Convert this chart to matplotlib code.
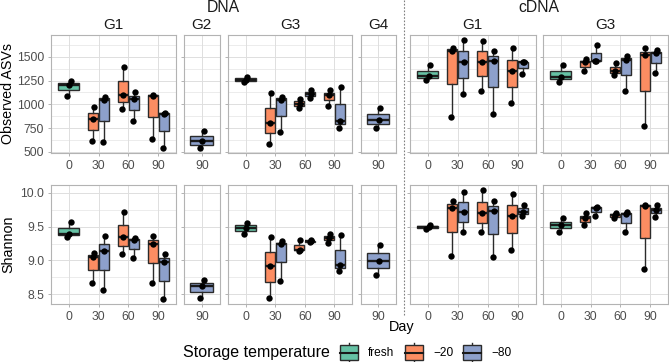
import matplotlib
matplotlib.use('Agg')
import matplotlib.pyplot as plt
from matplotlib.patches import Rectangle
import numpy as np

plt.rcParams['font.family'] = ['Liberation Sans', 'DejaVu Sans']

# ---------------- data ----------------
temps = ['fresh', '-20', '-80']
temp_labels = ['fresh', '\u221220', '\u221280']
temp_colors = ['#66C2A5', '#FC8D62', '#8DA0CB']

days_full = [0, 30, 60, 90]
days_late = [90]

# Observed ASVs
dna_g1_asv = {
    (0, 'fresh'): [1090, 1200, 1250],
    (30, '-20'): [615, 845, 970],
    (30, '-80'): [600, 1045, 1080],
    (60, '-20'): [950, 1100, 1395],
    (60, '-80'): [825, 1055, 1125],
    (90, '-20'): [635, 1090, 1100],
    (90, '-80'): [535, 900, 910],
}
dna_g2_asv = {(90, '-80'): [535, 610, 715]}
dna_g3_asv = {
    (0, 'fresh'): [1238, 1258, 1290],
    (30, '-20'): [580, 805, 1120],
    (30, '-80'): [705, 1045, 1080],
    (60, '-20'): [960, 1000, 1060],
    (60, '-80'): [1065, 1105, 1145],
    (90, '-20'): [985, 1095, 1150],
    (90, '-80'): [755, 820, 1185],
}
dna_g4_asv = {(90, '-80'): [750, 830, 960]}
cdna_g1_asv = {
    (0, 'fresh'): [1260, 1295, 1410],
    (30, '-20'): [863, 1559, 1595],
    (30, '-80'): [1106, 1444, 1674],
    (60, '-20'): [1144, 1448, 1664],
    (60, '-80'): [900, 1455, 1559],
    (90, '-20'): [1009, 1347, 1594],
    (90, '-80'): [1322, 1441, 1448],
}
cdna_g3_asv = {
    (0, 'fresh'): [1232, 1291, 1409],
    (30, '-20'): [1350, 1440, 1480],
    (30, '-80'): [1455, 1460, 1622],
    (60, '-20'): [1308, 1354, 1430],
    (60, '-80'): [1141, 1469, 1507],
    (90, '-20'): [768, 1517, 1587],
    (90, '-80'): [1326, 1535, 1570],
}

# Shannon
dna_g1_sh = {
    (0, 'fresh'): [9.35, 9.39, 9.57],
    (30, '-20'): [8.67, 9.05, 9.11],
    (30, '-80'): [8.57, 9.14, 9.36],
    (60, '-20'): [9.09, 9.35, 9.71],
    (60, '-80'): [9.03, 9.30, 9.33],
    (90, '-20'): [8.67, 9.24, 9.36],
    (90, '-80'): [8.43, 8.97, 9.095],
}
dna_g2_sh = {(90, '-80'): [8.44, 8.62, 8.71]}
dna_g3_sh = {
    (0, 'fresh'): [9.39, 9.48, 9.56],
    (30, '-20'): [8.45, 8.92, 9.34],
    (30, '-80'): [8.70, 9.24, 9.29],
    (60, '-20'): [9.14, 9.155, 9.30],
    (60, '-80'): [9.27, 9.285, 9.30],
    (90, '-20'): [9.26, 9.33, 9.39],
    (90, '-80'): [8.84, 8.94, 9.37],
}
dna_g4_sh = {(90, '-80'): [8.78, 8.99, 9.23]}
cdna_g1_sh = {
    (0, 'fresh'): [9.46, 9.49, 9.53],
    (30, '-20'): [9.06, 9.78, 9.88],
    (30, '-80'): [9.42, 9.72, 10.015],
    (60, '-20'): [9.415, 9.695, 10.04],
    (60, '-80'): [9.046, 9.725, 9.877],
    (90, '-20'): [9.154, 9.656, 9.98],
    (90, '-80'): [9.656, 9.72, 9.818],
}
cdna_g3_sh = {
    (0, 'fresh'): [9.425, 9.523, 9.62],
    (30, '-20'): [9.523, 9.62, 9.695],
    (30, '-80'): [9.656, 9.779, 9.793],
    (60, '-20'): [9.62, 9.67, 9.705],
    (60, '-80'): [9.425, 9.68, 9.71],
    (90, '-20'): [8.869, 9.808, 9.823],
    (90, '-80'): [9.646, 9.744, 9.818],
}

asv_ticks = [500, 750, 1000, 1250, 1500]
sh_ticks = [8.5, 9.0, 9.5, 10.0]
sh_tick_labels = ['8.5', '9.0', '9.5', '10.0']

panels = [
    ('DNA', 'G1', days_full, dna_g1_asv, dna_g1_sh),
    ('DNA', 'G2', days_late, dna_g2_asv, dna_g2_sh),
    ('DNA', 'G3', days_full, dna_g3_asv, dna_g3_sh),
    ('DNA', 'G4', days_late, dna_g4_asv, dna_g4_sh),
    ('cDNA', 'G1', days_full, cdna_g1_asv, cdna_g1_sh),
    ('cDNA', 'G3', days_full, cdna_g3_asv, cdna_g3_sh),
]

# ---------------- layout ----------------
W, H = 669, 362
fig = plt.figure(figsize=(W / 100, H / 100), dpi=100)


def rect(x0, y0, x1, y1):
    return [x0 / W, 1 - y1 / H, (x1 - x0) / W, (y1 - y0) / H]


cols = [(51, 176), (184, 219.5), (228, 352), (360.5, 395.5), (410, 535.5), (543, 668)]
rows = [(35, 153), (185, 304)]
ylims = [(487, 1729), (8.357, 10.114)]

BORDER = '#B3B3B3'
GRID = '#DEDEDE'
EDGE = '#2B2B2B'
offsets = np.array([-0.05, 0.02, 0.06])


def draw_panel(ax, days, data):
    for (day, temp), vals in data.items():
        i = days.index(day) + 1
        same = [t for (d, t) in data if d == day]
        if len(same) == 1:
            pos = i
            w = 0.70 if len(days) > 1 else 0.78
        else:
            k = same.index(temp)
            pos = i + (k - (len(same) - 1) / 2) * 0.375
            w = 0.3375
        c = temp_colors[temps.index(temp)]
        ax.boxplot([vals], positions=[pos], widths=[w], whis=(0, 100),
                   patch_artist=True, showfliers=False, manage_ticks=False,
                   boxprops=dict(facecolor=c, edgecolor=EDGE, linewidth=1.0),
                   medianprops=dict(color='#1A1A1A', linewidth=1.7),
                   whiskerprops=dict(color=EDGE, linewidth=1.0),
                   capprops=dict(linewidth=0), zorder=3)
        ax.scatter(pos + offsets[:len(vals)] * (w / 0.7), vals, s=21,
                   color='black', zorder=5, linewidths=0)


for ci, (nuc, grp, days, asv, sh) in enumerate(panels):
    for ri in range(2):
        x0, x1 = cols[ci]
        y0, y1 = rows[ri]
        ax = fig.add_axes(rect(x0, y0, x1, y1))
        data = asv if ri == 0 else sh
        draw_panel(ax, days, data)
        n = len(days)
        ax.set_xlim(0.4, n + 0.6)
        ax.set_ylim(*ylims[ri])
        ax.set_xticks(range(1, n + 1))
        ax.set_xticklabels([str(d) for d in days])
        if ri == 0:
            ax.set_yticks(asv_ticks)
            ax.set_yticks([a + 125 for a in asv_ticks], minor=True)
            ylab = [str(t) for t in asv_ticks]
        else:
            ax.set_yticks(sh_ticks)
            ax.set_yticks([8.75, 9.25, 9.75], minor=True)
            ylab = sh_tick_labels
        if ci == 0:
            ax.set_yticklabels(ylab)
        else:
            ax.set_yticklabels([])
            ax.tick_params(axis='y', which='major', length=0)
        ax.grid(True, which='major', color=GRID, linewidth=0.7, zorder=0)
        ax.grid(True, which='minor', axis='y', color=GRID, linewidth=0.4, zorder=0)
        ax.set_axisbelow(True)
        ax.tick_params(axis='both', which='major', length=2.5, width=0.7,
                       color=BORDER, labelsize=8.7, labelcolor='#4D4D4D', pad=2.5)
        ax.tick_params(axis='y', which='minor', length=0)
        for s in ax.spines.values():
            s.set_color(BORDER)
            s.set_linewidth(0.8)
        if ri == 0:
            fig.text((x0 + x1) / 2 / W, 1 - 25 / H, grp, ha='center', va='center',
                     fontsize=11, color='#1A1A1A')

# top-level strips
fig.text((cols[0][0] + cols[3][1]) / 2 / W, 1 - 7.5 / H, 'DNA', ha='center',
         va='center', fontsize=11.3, color='#1A1A1A')
fig.text((cols[4][0] + cols[5][1]) / 2 / W, 1 - 7.5 / H, 'cDNA', ha='center',
         va='center', fontsize=11.3, color='#1A1A1A')

# y labels
fig.text(8 / W, 1 - 94 / H, 'Observed ASVs', rotation=90, ha='center', va='center',
         fontsize=10.3)
fig.text(8 / W, 1 - 244 / H, 'Shannon', rotation=90, ha='center', va='center',
         fontsize=10.3)

# overlay for separator, x label, legend
ov = fig.add_axes([0, 0, 1, 1])
ov.set_xlim(0, W)
ov.set_ylim(H, 0)
ov.axis('off')
ov.plot([404, 404], [0, 316], color='#7F7F7F', linewidth=0.8, dashes=(1.5, 1.5))
ov.text(402, 327, 'Day', ha='center', va='center', fontsize=10.4)

ov.text(183, 352, 'Storage temperature', ha='left', va='center', fontsize=11.5)
key_x = [340, 405, 463]
for kx, lab, c in zip(key_x, temp_labels, temp_colors):
    ov.plot([kx + 9, kx + 9], [342.5, 363], color=EDGE, linewidth=1.0)
    ov.add_patch(Rectangle((kx, 345), 18, 15, facecolor=c, edgecolor=EDGE,
                           linewidth=1.0, zorder=3))
    ov.plot([kx, kx + 18], [352.5, 352.5], color='#1A1A1A', linewidth=1.5, zorder=4)
    ov.text(kx + 28, 352.5, lab, ha='left', va='center', fontsize=8.6)

fig.savefig('out.png', dpi=100)
